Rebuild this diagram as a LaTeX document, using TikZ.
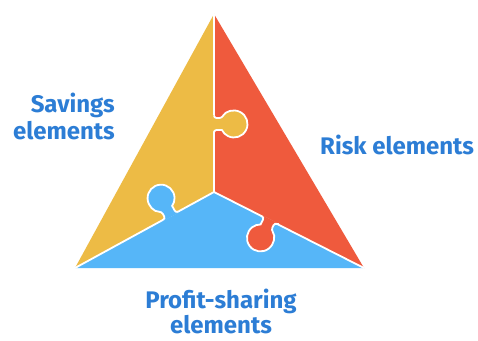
\documentclass[tikz,border=0pt]{standalone}
\usepackage{fontspec}
\setmainfont{Fira Sans}
\definecolor{pyellow}{HTML}{EDBB45}
\definecolor{pred}{HTML}{EF5A3D}
\definecolor{pblue}{HTML}{56B6F8}
\definecolor{ptext}{HTML}{2C7DD5}
\newcommand\pzknob[3]{%
  \begin{scope}[shift={#1}, rotate=#2]
    \fill[#3] (-8.5,0) [rounded corners=2.5] -- (-6,0) -- (-6,7.9) [sharp corners]
      arc[start angle=243.6, end angle=-63.6, radius=13.5]
      [rounded corners=2.5] -- (6,0) -- (8.5,0) [sharp corners] -- (8.5,-1.2) -- (-8.5,-1.2) -- cycle;
    \draw[edge] (-8.5,0) [rounded corners=2.5] -- (-6,0) -- (-6,7.9) [sharp corners]
      arc[start angle=243.6, end angle=-63.6, radius=13.5]
      [rounded corners=2.5] -- (6,0) -- (8.5,0);
  \end{scope}}
\begin{document}
\begin{tikzpicture}[x=1pt,y=1pt,
  edge/.style={white, line width=1.8pt},
  lbl/.style={text=ptext, font=\fontsize{24pt}{27pt}\selectfont\bfseries, inner sep=0pt},
]
\useasboundingbox (0,0) rectangle (478,340);
\fill[white] (0,0) rectangle (478,340);
\coordinate (A) at (214,326);
\coordinate (BL) at (75,72);
\coordinate (BR) at (364,72);
\coordinate (C) at (214,148);
\fill[pyellow] (A) -- (C) -- (BL) -- cycle;
\fill[pred] (A) -- (BR) -- (C) -- cycle;
\fill[pblue] (C) -- (BL) -- (BR) -- cycle;
\draw[edge] (A) -- (C) (C) -- (BL) (C) -- (BR);
\pzknob{(214,216)}{-90}{pyellow}
\pzknob{(170.65,124.3)}{28.67}{pblue}
\pzknob{(269.48,119.89)}{153.13}{pred}
\node[lbl, align=right, anchor=base east] (sav) at (115,200) {Savings\\elements};
\node[lbl, anchor=base west] (risk) at (320,185) {Risk elements};
\node[lbl, align=center, anchor=base, font=\fontsize{24pt}{25.5pt}\selectfont\bfseries] (prof) at (221,6.5) {Profit-sharing\\elements};
\end{tikzpicture}
\end{document}
